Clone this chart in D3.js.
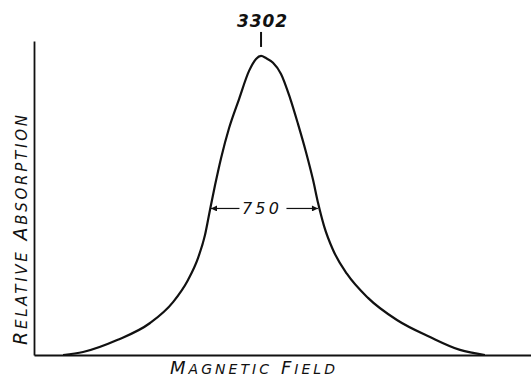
<!DOCTYPE html>
<html>
<head>
<meta charset="utf-8">
<script src="https://cdn.jsdelivr.net/npm/d3@7"></script>
<style>
  body { margin: 0; background: #fff; }
  svg { display: block; }
</style>
</head>
<body>
<div id="chart"></div>
<script>
// absorption line, values (field in gauss, relative absorption)
var field = [1914, 2054, 2293, 2524, 2685, 2790, 2860, 2909, 2944, 2980, 3022, 3078, 3148, 3218, 3267, 3302,
             3337, 3386, 3442, 3505, 3561, 3617, 3667, 3702, 3744, 3807, 3905, 4052, 4255, 4487, 4697, 4872];
var absorption = [0, 0.010, 0.050, 0.107, 0.177, 0.251, 0.324, 0.401, 0.485, 0.569, 0.659, 0.759, 0.856, 0.950, 0.990, 1.0,
                  0.993, 0.977, 0.940, 0.860, 0.773, 0.679, 0.585, 0.508, 0.431, 0.351, 0.271, 0.191, 0.117, 0.060, 0.017, 0];

var peakField = 3302;
var widthStart = 2951, widthEnd = 3701, widthLevel = 0.49;
var peakLabel = "3302";
var widthLabel = "750";
var xTitle = [["M", "AGNETIC"], ["F", "IELD"]];
var yTitle = [["R", "ELATIVE"], ["A", "BSORPTION"]];

var width = 531, height = 379;
var x = d3.scaleLinear().domain([1710, 5195]).range([34, 531]);
var y = d3.scaleLinear().domain([0, 1.05]).range([355, 41]);

var svg = d3.select('#chart').append('svg')
    .attr('width', width)
    .attr('height', height);

var ink = '#111';
var font = '"DejaVu Sans", sans-serif';

// axes, no ticks
svg.append('g')
    .attr('transform', 'translate(0,' + y(0) + ')')
    .call(d3.axisBottom(x).ticks(0).tickSizeOuter(0))
    .select('.domain').attr('stroke', ink).attr('stroke-width', 2);
svg.append('g')
    .attr('transform', 'translate(' + x(1710) + ',0)')
    .call(d3.axisLeft(y).ticks(0).tickSizeOuter(0))
    .select('.domain').attr('stroke', ink).attr('stroke-width', 1.8);

// the curve
var pts = field.map(function(f, i){ return [f, absorption[i]]; });
var line = d3.line()
    .x(function(d){ return x(d[0]); })
    .y(function(d){ return y(d[1]); })
    .curve(d3.curveMonotoneX);
svg.append('path')
    .datum(pts)
    .attr('d', line)
    .attr('fill', 'none')
    .attr('stroke', ink)
    .attr('stroke-width', 2.2)
    .attr('stroke-linejoin', 'round');

// peak marker
svg.append('line')
    .attr('x1', x(peakField)).attr('x2', x(peakField))
    .attr('y1', y(1.0) - 24).attr('y2', y(1.0) - 9)
    .attr('stroke', ink).attr('stroke-width', 2);
svg.append('text')
    .attr('x', x(peakField) + 1)
    .attr('y', y(1.0) - 29)
    .attr('text-anchor', 'middle')
    .attr('font-family', font)
    .attr('font-style', 'italic')
    .attr('font-weight', 'bold')
    .attr('font-size', 17)
    .attr('textLength', 50)
    .attr('fill', ink)
    .text(peakLabel);

// line width arrows
var defs = svg.append('defs');
defs.append('marker')
    .attr('id', 'arr')
    .attr('viewBox', '0 0 10 10')
    .attr('refX', 10).attr('refY', 5)
    .attr('markerWidth', 8).attr('markerHeight', 6)
    .attr('markerUnits', 'userSpaceOnUse')
    .attr('orient', 'auto')
    .append('path').attr('d', 'M0,0 L10,5 L0,10 Z').attr('fill', ink);

var wy = y(widthLevel);
var wMid = (x(widthStart) + x(widthEnd)) / 2 - 1;
svg.append('line')
    .attr('x1', wMid - 24).attr('x2', x(widthStart))
    .attr('y1', wy).attr('y2', wy)
    .attr('stroke', ink).attr('stroke-width', 1.2)
    .attr('marker-end', 'url(#arr)');
svg.append('line')
    .attr('x1', wMid + 23).attr('x2', x(widthEnd))
    .attr('y1', wy).attr('y2', wy)
    .attr('stroke', ink).attr('stroke-width', 1.2)
    .attr('marker-end', 'url(#arr)');
svg.append('text')
    .attr('x', wMid - 3)
    .attr('y', wy + 6)
    .attr('text-anchor', 'middle')
    .attr('font-family', font)
    .attr('font-style', 'italic')
    .attr('font-size', 16)
    .attr('textLength', 37)
    .attr('fill', ink)
    .text(widthLabel);

// small caps titles
function smallCaps(sel, words, big, small){
    words.forEach(function(w, i){
        sel.append('tspan').attr('font-size', big).text((i > 0 ? ' ' : '') + w[0]);
        sel.append('tspan').attr('font-size', small).text(w[1]);
    });
}

var xt = svg.append('text')
    .attr('x', 170)
    .attr('y', 374)
    .attr('font-family', font)
    .attr('font-style', 'italic')
    .attr('fill', ink)
    .attr('textLength', 165)
    .attr('lengthAdjust', 'spacing');
smallCaps(xt, xTitle, 18, 14);

var yt = svg.append('text')
    .attr('transform', 'translate(27,345) rotate(-90)')
    .attr('x', 0).attr('y', 0)
    .attr('font-family', font)
    .attr('font-style', 'italic')
    .attr('fill', ink)
    .attr('textLength', 230)
    .attr('lengthAdjust', 'spacing');
smallCaps(yt, yTitle, 19, 15);
</script>
</body>
</html>
